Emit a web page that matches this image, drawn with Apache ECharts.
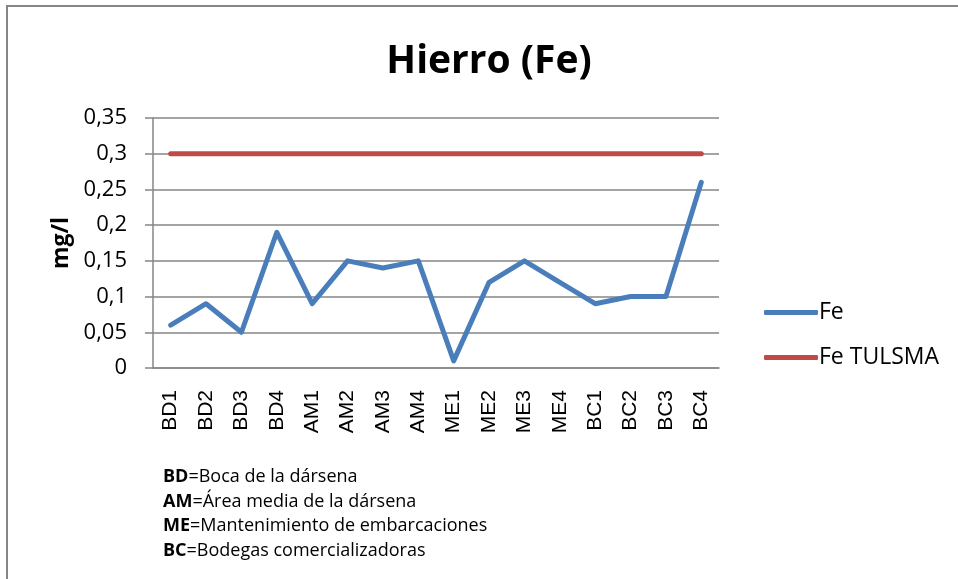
<!DOCTYPE html>
<html>
<head>
<meta charset="utf-8">
<script src="https://cdn.jsdelivr.net/npm/echarts@6/dist/echarts.min.js"></script>
<style>
  html, body { margin: 0; padding: 0; background: #fff; }
  #chart { width: 958px; height: 579px; }
</style>
</head>
<body>
<div id="chart"></div>
<script>
// puntos de muestreo
var categories = ['BD1', 'BD2', 'BD3', 'BD4', 'AM1', 'AM2', 'AM3', 'AM4',
  'ME1', 'ME2', 'ME3', 'ME4', 'BC1', 'BC2', 'BC3', 'BC4'];
var feData = [0.06, 0.09, 0.05, 0.19, 0.09, 0.15, 0.14, 0.15,
  0.01, 0.12, 0.15, 0.12, 0.09, 0.10, 0.10, 0.26];
var tulsmaData = [0.3, 0.3, 0.3, 0.3, 0.3, 0.3, 0.3, 0.3,
  0.3, 0.3, 0.3, 0.3, 0.3, 0.3, 0.3, 0.3];
var notes = [
  ['BD', 'Boca de la dársena'],
  ['AM', 'Área media de la dársena'],
  ['ME', 'Mantenimiento de embarcaciones'],
  ['BC', 'Bodegas comercializadoras']
];

var font = '"Open Sans", "Liberation Sans", sans-serif';
var gridColor = '#868686';
var fontColor = '#000';

var chart = echarts.init(document.getElementById('chart'));

var noteGraphics = notes.map(function (n, i) {
  return {
    type: 'text',
    left: 163,
    top: 468 + i * 24.5,
    style: {
      text: '{b|' + n[0] + '}{n|=' + n[1] + '}',
      rich: {
        b: { fontFamily: font, fontSize: 18, fontWeight: 'bold', fill: fontColor },
        n: { fontFamily: font, fontSize: 18, fill: fontColor }
      }
    }
  };
});

var option = {
  backgroundColor: '#fff',
  animation: false,
  title: {
    text: 'Hierro (Fe)',
    left: 484,
    textAlign: 'center',
    top: 37,
    textStyle: {
      fontFamily: font,
      fontSize: 39,
      fontWeight: 'bold',
      color: fontColor
    }
  },
  legend: {
    orient: 'vertical',
    left: 759,
    top: 296,
    itemGap: 22,
    itemWidth: 54,
    itemHeight: 5,
    icon: 'roundRect',
    textStyle: { fontFamily: font, fontSize: 23, color: fontColor, padding: [0, 0, 0, -4] },
    data: ['Fe', 'Fe TULSMA']
  },
  grid: { left: 153, right: 239, top: 118, bottom: 211 },
  xAxis: {
    type: 'category',
    data: categories,
    boundaryGap: true,
    axisLine: { lineStyle: { color: gridColor, width: 1.5 } },
    axisTick: { show: false },
    axisLabel: {
      rotate: 90,
      margin: 22,
      interval: 0,
      fontFamily: '"Liberation Sans", Arial, sans-serif',
      fontSize: 21,
      color: fontColor
    }
  },
  yAxis: {
    type: 'value',
    min: 0,
    max: 0.35,
    interval: 0.05,
    name: 'mg/l',
    nameLocation: 'middle',
    nameGap: 79,
    nameTextStyle: { fontFamily: font, fontSize: 23, fontWeight: 'bold', color: fontColor },
    axisLine: { show: true, lineStyle: { color: gridColor, width: 1.5 } },
    axisTick: { show: true, length: 8, lineStyle: { color: gridColor, width: 1.5 } },
    axisLabel: {
      margin: 26,
      fontFamily: font,
      fontSize: 22,
      color: fontColor,
      formatter: function (v) { return String(Math.round(v * 100) / 100).replace('.', ','); }
    },
    splitLine: { lineStyle: { color: gridColor, width: 1.5 } }
  },
  series: [
    {
      name: 'Fe',
      type: 'line',
      data: feData,
      showSymbol: false,
      symbol: 'none',
      color: '#4A7EBB',
      lineStyle: { width: 5, color: '#4A7EBB', cap: 'round', join: 'round' }
    },
    {
      name: 'Fe TULSMA',
      type: 'line',
      data: tulsmaData,
      showSymbol: false,
      symbol: 'none',
      color: '#BE4B48',
      lineStyle: { width: 5, color: '#BE4B48', cap: 'round' }
    }
  ],
  graphic: [
    {
      type: 'polyline',
      shape: { points: [[7, 579], [7, 6], [958, 6]] },
      style: { stroke: '#868686', lineWidth: 2, fill: null }
    }
  ].concat(noteGraphics)
};

chart.setOption(option);
</script>
</body>
</html>
